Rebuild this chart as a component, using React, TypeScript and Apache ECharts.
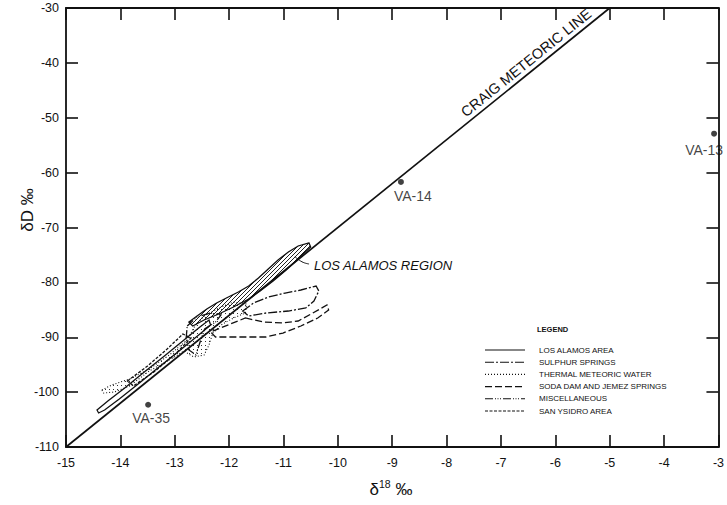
import React, { useEffect, useRef } from "react";
import * as echarts from "echarts";

type Pt = [number, number];

// ---------- axes ----------
const X_MIN = -15;
const X_MAX = -3;
const X_STEP = 1;
const Y_MIN = -110;
const Y_MAX = -30;
const Y_STEP = 10;

// ---------- Craig meteoric line ----------
const craigLine: Pt[] = [
  [-15, -110],
  [-5, -30],
];

// ---------- sample points ----------
const sampleNames = ["VA-14", "VA-13", "VA-35"];
const sampleX = [-8.84, -3.08, -13.49];
const sampleY = [-61.7, -52.9, -102.3];

// ---------- region outlines (δ18O, δD) ----------
const losAlamosUpper: Pt[] = [
  [-10.53, -72.82], [-10.73, -73.37], [-10.91, -74.46], [-11.1, -75.92], [-11.28, -77.56],
  [-11.46, -79.2], [-11.64, -80.66], [-11.83, -81.75], [-12.05, -82.85], [-12.23, -83.76],
  [-12.41, -84.85], [-12.59, -86.13], [-12.74, -87.22], [-12.67, -87.95], [-12.46, -86.86],
  [-12.19, -85.76], [-11.92, -84.49], [-11.64, -83.03], [-11.43, -81.57], [-11.19, -79.75],
  [-10.95, -77.75], [-10.77, -76.11], [-10.62, -74.65], [-10.5, -73.55],
];
const losAlamosLower: Pt[] = [
  [-14.43, -103.26], [-14.23, -101.62], [-13.92, -99.25], [-13.56, -96.33], [-13.19, -93.42],
  [-12.83, -90.5], [-12.56, -88.31], [-12.37, -86.86], [-12.34, -87.77], [-12.56, -89.59],
  [-12.92, -92.51], [-13.29, -95.42], [-13.65, -98.34], [-14.02, -101.25], [-14.29, -103.26],
  [-14.4, -103.8],
];
const thermalWater: Pt[] = [
  [-14.34, -99.61], [-14.16, -98.7], [-13.83, -97.61], [-13.47, -95.79], [-13.1, -93.23],
  [-12.77, -90.5], [-12.63, -87.95], [-12.46, -86.13], [-12.19, -84.67], [-11.92, -83.58],
  [-11.68, -83.94], [-11.7, -85.58], [-11.92, -86.49], [-12.15, -87.77], [-12.3, -89.23],
  [-12.37, -91.41], [-12.46, -93.23], [-12.65, -93.6], [-12.83, -92.51], [-13.1, -94.15],
  [-13.47, -96.15], [-13.83, -98.88], [-14.11, -99.98], [-14.31, -100.16],
];
const sulphurSprings: Pt[] = [
  [-11.75, -85.22], [-11.55, -83.76], [-11.28, -82.67], [-10.97, -81.94], [-10.68, -81.39],
  [-10.4, -80.66], [-10.35, -81.57], [-10.44, -83.39], [-10.59, -84.67], [-10.91, -85.22],
  [-11.32, -85.58], [-11.64, -86.13],
];
const sodaDam: Pt[] = [
  [-11.7, -86.49], [-11.37, -87.22], [-11.01, -87.4], [-10.73, -87.04], [-10.46, -85.58],
  [-10.2, -84.12], [-10.17, -85.03], [-10.37, -86.49], [-10.68, -87.95], [-11.01, -89.23],
  [-11.32, -89.95], [-11.83, -89.95], [-12.25, -89.95], [-12.34, -89.04],
];
const miscellaneous: Pt[] = [
  [-12.77, -87.95], [-12.59, -86.31], [-12.34, -85.58], [-12.15, -85.95], [-12.25, -87.22],
  [-12.45, -88.5], [-12.54, -91.05], [-12.61, -93.23], [-12.74, -92.32], [-12.79, -90.14],
];
const sanYsidro: Pt[] = [
  [-13.87, -97.97], [-13.5, -95.24], [-13.14, -92.14], [-12.85, -89.41], [-12.7, -90.14],
  [-12.99, -93.05], [-13.36, -96.15], [-13.76, -98.88],
];

const regionNames = [
  "LOS ALAMOS AREA",
  "SULPHUR SPRINGS",
  "THERMAL METEORIC WATER",
  "SODA DAM AND JEMEZ SPRINGS",
  "MISCELLANEOUS",
  "SAN YSIDRO AREA",
];
const regionRings: Pt[][][] = [
  [losAlamosUpper, losAlamosLower],
  [sulphurSprings],
  [thermalWater],
  [sodaDam],
  [miscellaneous],
  [sanYsidro],
];

// ---------- annotations ----------
const annotationTexts = ["CRAIG METEORIC LINE", "LOS ALAMOS REGION"];
const annotationX = [-6.42, -10.44];
const annotationY = [-41.4, -77.0];
const leaderLine: Pt[] = [
  [-10.79, -75.3],
  [-10.66, -76.25],
  [-10.53, -76.65],
];

// ---------- styles (kept separate from data) ----------
const FONT = "'Liberation Sans', Arial, Helvetica, sans-serif";
const INK = "#111111";
const regionDash: Record<string, number[] | null> = {
  "LOS ALAMOS AREA": null,
  "SULPHUR SPRINGS": [9, 2, 2, 2],
  "THERMAL METEORIC WATER": [1, 2],
  "SODA DAM AND JEMEZ SPRINGS": [7, 3],
  MISCELLANEOUS: [8, 2, 1, 1.5, 1, 1.5, 1, 2],
  "SAN YSIDRO AREA": [3, 1.5],
};
const regionFill: Record<string, string[]> = {
  "LOS ALAMOS AREA": ["hatch", "none"],
  "THERMAL METEORIC WATER": ["dots"],
};
const drawOrder = [2, 0, 1, 3, 4, 5];
const labelOffsets: Record<string, [number, number]> = {
  "VA-14": [12, 0],
  "VA-13": [-10, 2],
  "VA-35": [3, -1],
};

function makePattern(kind: string): any {
  const c = document.createElement("canvas");
  c.width = 4;
  c.height = 4;
  const g = c.getContext("2d")!;
  if (kind === "hatch") {
    g.strokeStyle = "#222";
    g.lineWidth = 1;
    g.beginPath();
    g.moveTo(0, 4);
    g.lineTo(4, 0);
    g.moveTo(-1, 1);
    g.lineTo(1, -1);
    g.moveTo(3, 5);
    g.lineTo(5, 3);
    g.stroke();
  } else {
    g.fillStyle = "#333";
    g.fillRect(1, 1, 1, 1);
  }
  return { image: c.toDataURL(), repeat: "repeat", imageWidth: 4, imageHeight: 4 };
}

function axisLine() {
  return { show: true, onZero: false, lineStyle: { color: INK, width: 1.8 } };
}
function axisTick() {
  return { show: true, inside: true, length: 12, lineStyle: { color: INK, width: 1.6 } };
}

export default function App() {
  const ref = useRef<HTMLDivElement>(null);

  useEffect(() => {
    if (!ref.current) return;
    const chart = echarts.init(ref.current, undefined, { renderer: "svg" });
    const patterns: Record<string, any> = {
      hatch: makePattern("hatch"),
      dots: makePattern("dots"),
    };

    const regionSeries = drawOrder.map((ri) => {
      const name = regionNames[ri];
      const rings = regionRings[ri];
      return {
        type: "custom",
        name,
        coordinateSystem: "cartesian2d",
        silent: true,
        data: rings.map((r) => r[0]),
        renderItem: (params: any, api: any) => {
          const ring = rings[params.dataIndex];
          const pts = ring.map((p) => api.coord(p));
          const fk = (regionFill[name] || [])[params.dataIndex] || "none";
          return {
            type: "polygon",
            shape: { points: pts },
            style: {
              fill: fk === "none" ? "none" : patterns[fk],
              stroke: INK,
              lineWidth: name === "THERMAL METEORIC WATER" ? 1.1 : 1.3,
              lineDash: regionDash[name] || null,
            },
          };
        },
      };
    });

    const legendGraphics: any[] = [
      {
        type: "text", left: 537, top: 325,
        style: { text: "LEGEND", fontSize: 7.5, fontWeight: "bold", fontFamily: FONT, fill: INK },
      },
    ];
    regionNames.forEach((n, i) => {
      const y = 350 + i * 12.2;
      legendGraphics.push({
        type: "line",
        shape: { x1: 485, y1: y, x2: 525, y2: y },
        style: { stroke: INK, lineWidth: 1.1, lineDash: regionDash[n] || null },
      });
      legendGraphics.push({
        type: "text", x: 539, y,
        style: {
          text: n, fontSize: 8, fontFamily: FONT, fill: INK,
          align: "left", verticalAlign: "middle", textAlign: "left", textVerticalAlign: "middle",
        },
      });
    });

    chart.setOption({
      animation: false,
      backgroundColor: "#ffffff",
      grid: { left: 66, right: 3, top: 8, bottom: 58 },
      xAxis: [
        {
          type: "value", min: X_MIN, max: X_MAX, interval: X_STEP, position: "bottom",
          axisLine: axisLine(), axisTick: axisTick(), splitLine: { show: false },
          axisLabel: { show: true, margin: 9, color: INK, fontSize: 12.5, fontFamily: FONT, showMinLabel: true, showMaxLabel: true },
        },
        {
          type: "value", min: X_MIN, max: X_MAX, interval: X_STEP, position: "top",
          axisLine: axisLine(), axisTick: axisTick(), splitLine: { show: false },
          axisLabel: { show: false },
        },
      ],
      yAxis: [
        {
          type: "value", min: Y_MIN, max: Y_MAX, interval: Y_STEP, position: "left",
          axisLine: axisLine(), axisTick: axisTick(), splitLine: { show: false },
          axisLabel: { show: true, margin: 7, color: INK, fontSize: 12.5, fontFamily: FONT, showMinLabel: true, showMaxLabel: true },
        },
        {
          type: "value", min: Y_MIN, max: Y_MAX, interval: Y_STEP, position: "right",
          axisLine: axisLine(), axisTick: axisTick(), splitLine: { show: false },
          axisLabel: { show: false },
        },
      ],
      graphic: [
        {
          type: "text", x: 27, y: 210, rotation: Math.PI / 2,
          style: {
            text: "δD ‰", fontSize: 17, fontFamily: FONT, fill: INK,
            align: "center", verticalAlign: "middle", textAlign: "center", textVerticalAlign: "middle",
          },
        },
        {
          type: "text", x: 391, y: 488,
          style: {
            text: "{a|δ}{b|18}{a| ‰}", fontFamily: FONT, fill: INK,
            align: "center", verticalAlign: "middle", textAlign: "center", textVerticalAlign: "middle",
            rich: {
              a: { fontSize: 17, fontFamily: FONT, fill: INK, lineHeight: 20, verticalAlign: "bottom" },
              b: { fontSize: 10.5, fontFamily: FONT, fill: INK, lineHeight: 20, verticalAlign: "top" },
            },
          },
        },
        ...legendGraphics,
      ],
      series: [
        ...regionSeries,
        {
          type: "line",
          name: "CRAIG METEORIC LINE",
          data: craigLine,
          symbol: "none",
          silent: true,
          lineStyle: { color: INK, width: 1.7 },
          z: 3,
        },
        {
          type: "line",
          name: "leader",
          data: leaderLine,
          smooth: true,
          symbol: "none",
          silent: true,
          lineStyle: { color: INK, width: 1 },
        },
        {
          type: "scatter",
          name: "samples",
          data: sampleNames.map((n, i) => ({
            name: n,
            value: [sampleX[i], sampleY[i]],
            label: { offset: labelOffsets[n] },
          })),
          symbolSize: 6,
          itemStyle: { color: INK },
          label: {
            show: true, formatter: "{b}", position: "bottom", distance: 4,
            fontSize: 14, color: INK, fontFamily: FONT,
          },
          z: 4,
        },
        {
          type: "custom",
          name: "annotations",
          coordinateSystem: "cartesian2d",
          silent: true,
          data: annotationTexts.map((_, i) => [annotationX[i], annotationY[i]]),
          renderItem: (params: any, api: any) => {
            const i = params.dataIndex;
            const p = api.coord([annotationX[i], annotationY[i]]);
            if (i === 0) {
              const a = api.coord(craigLine[0]);
              const b = api.coord(craigLine[1]);
              const ang = Math.atan2(a[1] - b[1], b[0] - a[0]);
              return {
                type: "text",
                x: p[0] - Math.sin(ang) * 10,
                y: p[1] - Math.cos(ang) * 10,
                rotation: ang,
                style: {
                  text: annotationTexts[i], fontSize: 14.5, fontFamily: FONT, fill: INK,
                  align: "center", verticalAlign: "middle", textAlign: "center", textVerticalAlign: "middle",
                },
              };
            }
            return {
              type: "text",
              x: p[0],
              y: p[1],
              style: {
                text: annotationTexts[i], fontSize: 13, fontStyle: "italic", fontFamily: FONT, fill: INK,
                align: "left", verticalAlign: "middle", textAlign: "left", textVerticalAlign: "middle",
              },
            };
          },
          z: 5,
        },
      ],
    });

    return () => chart.dispose();
  }, []);

  return (
    <div
      ref={ref}
      style={{ position: "absolute", left: 0, top: 0, width: 727, height: 505, background: "#fff" }}
    />
  );
}
